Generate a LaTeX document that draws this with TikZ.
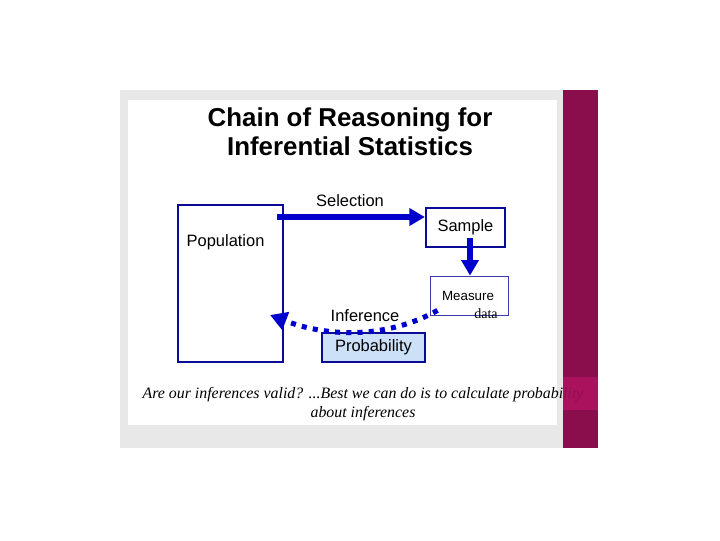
\documentclass[tikz,border=0pt]{standalone}
\usepackage{fontspec}
\setmainfont{Liberation Sans}
\newfontfamily\timesfont{Liberation Serif}
\usepackage{xcolor}
\usetikzlibrary{arrows.meta}

\definecolor{slidegray}{RGB}{232,232,232}
\definecolor{barplum}{RGB}{137,14,75}
\definecolor{barpink}{RGB}{180,20,98}
\definecolor{boxnavy}{RGB}{10,10,150}
\definecolor{arrowblue}{RGB}{0,0,205}
\definecolor{probfill}{RGB}{204,224,248}

\begin{document}
\begin{tikzpicture}[
    x=0.025cm, y=-0.025cm,
    box/.style={draw=boxnavy, line width=1.6pt, rectangle, inner sep=0pt,
                font=\fontsize{11.7}{13}\selectfont},
    thinbox/.style={draw=boxnavy!80, line width=0.6pt, rectangle, inner sep=0pt},
    lbl/.style={font=\fontsize{11.7}{13}\selectfont, inner sep=1pt},
    flow/.style={arrowblue, line width=3.6pt, -{Triangle[length=11pt, width=12pt]}},
    guess/.style={arrowblue, line width=3.6pt, dash pattern=on 3.6pt off 4.4pt,
                  -{Triangle[length=12pt, width=13pt]}}
]
\useasboundingbox (0,0) rectangle (720,540);
%% Slide background
\fill[white] (0,0) rectangle (720,540);
\fill[slidegray] (120,90) rectangle (563,448);
\fill[white] (128,100) rectangle (557,425);
%% Title
\node[font=\bfseries\fontsize{18.4}{20.5}\selectfont, align=center] (title) at (350,132)
    {Chain of Reasoning for\\Inferential Statistics};
%% Boxes
\node[box, minimum width=105*0.025cm, minimum height=157*0.025cm] (popbox) at (230.5,283.5) {};
\node[lbl, anchor=west] (pop) at (185,242) {Population};
\node[box, minimum width=79*0.025cm, minimum height=39*0.025cm] (sample) at (465.5,227.5) {Sample};
\node[thinbox, minimum width=78*0.025cm, minimum height=39*0.025cm] (measure) at (469,295.5) {};
\node[font=\fontsize{9.5}{11}\selectfont, inner sep=0pt] (meastxt) at (468,296) {Measure};
\node[font=\timesfont\fontsize{10}{11}\selectfont, inner sep=0pt] (data) at (486,314) {data};
\node[box, line width=0.8pt, fill=probfill, minimum width=103*0.025cm,
      minimum height=29*0.025cm] (prob) at (373.5,347.5) {Probability};
%% Arrows
\coordinate (selstart) at (277,217);
\draw[flow] (selstart) -- (sample.west |- selstart);
\node[lbl] (sel) at (350,201) {Selection};
\coordinate (downstart) at (470,238);
\draw[flow] (downstart) -- (measure.north -| downstart);
\coordinate (popin) at (270,315);
\draw[guess] (measure.south west) ++(8,-5) .. controls (388,338) and (330,338) .. (popin);
\node[lbl] (inf) at (365,316) {Inference};
%% Side bar and caption
\fill[barplum] (563,90) rectangle (598,448);
\node[font=\timesfont\itshape\fontsize{11.3}{13}\selectfont, align=center] (caption) at (363,404)
    {Are our inferences valid? ...Best we can do is to calculate probability\\about inferences};
\fill[barpink, opacity=0.8] (563,377) rectangle (598,410);
\end{tikzpicture}
\end{document}
